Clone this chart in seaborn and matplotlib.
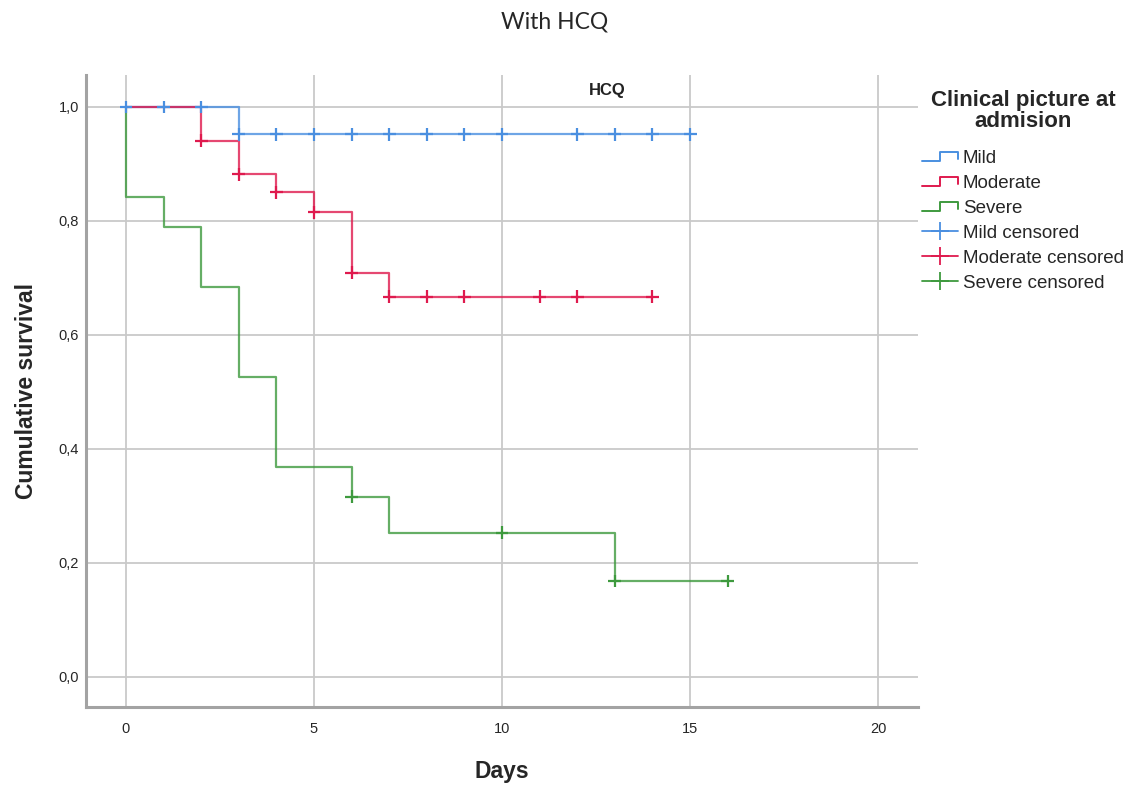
import pandas as pd
import seaborn as sns
import matplotlib.pyplot as plt
from matplotlib.lines import Line2D
from matplotlib.legend_handler import HandlerBase

# Kaplan-Meier curves
groups = ["Mild", "Moderate", "Severe"]
colors = ["#4a8fe0", "#df1a4e", "#3e9a3e"]

mild_t = [0, 3, 15]
mild_s = [1.0, 0.952, 0.952]
moderate_t = [0, 2, 3, 4, 5, 6, 7, 14]
moderate_s = [1.0, 0.941, 0.882, 0.850, 0.815, 0.709, 0.667, 0.667]
severe_t = [0, 0, 1, 2, 3, 4, 6, 7, 13, 16]
severe_s = [1.0, 0.842, 0.789, 0.684, 0.526, 0.368, 0.316, 0.253, 0.168, 0.168]

# censored cases
mild_cens_t = [0, 1, 2, 3, 4, 5, 6, 7, 8, 9, 10, 12, 13, 14, 15]
mild_cens_s = [1.0, 1.0, 1.0, 0.952, 0.952, 0.952, 0.952, 0.952, 0.952,
               0.952, 0.952, 0.952, 0.952, 0.952, 0.952]
moderate_cens_t = [2, 3, 4, 5, 6, 7, 8, 9, 11, 12, 14]
moderate_cens_s = [0.941, 0.882, 0.850, 0.815, 0.709, 0.667, 0.667, 0.667,
                   0.667, 0.667, 0.667]
severe_cens_t = [6, 10, 13, 16]
severe_cens_s = [0.316, 0.253, 0.168, 0.168]

x_ticks = [0, 5, 10, 15, 20]
y_ticks = [0.0, 0.2, 0.4, 0.6, 0.8, 1.0]

curves = pd.concat([
    pd.DataFrame({"Days": mild_t, "Survival": mild_s, "Group": "Mild"}),
    pd.DataFrame({"Days": moderate_t, "Survival": moderate_s, "Group": "Moderate"}),
    pd.DataFrame({"Days": severe_t, "Survival": severe_s, "Group": "Severe"}),
], ignore_index=True)
censored = pd.concat([
    pd.DataFrame({"Days": mild_cens_t, "Survival": mild_cens_s, "Group": "Mild"}),
    pd.DataFrame({"Days": moderate_cens_t, "Survival": moderate_cens_s, "Group": "Moderate"}),
    pd.DataFrame({"Days": severe_cens_t, "Survival": severe_cens_s, "Group": "Severe"}),
], ignore_index=True)

sns.set_style("white")
plt.rcParams["font.family"] = ["Liberation Sans", "DejaVu Sans"]

pal = dict(zip(groups, colors))

fig = plt.figure(figsize=(11.32, 7.87), dpi=100)
ax = fig.add_axes([0.076, 0.1017, 0.735, 0.803])

sns.lineplot(data=curves, x="Days", y="Survival", hue="Group", palette=pal,
             estimator=None, sort=False, drawstyle="steps-post",
             linewidth=1.6, alpha=0.8, legend=False, ax=ax, zorder=2)
sns.scatterplot(data=censored, x="Days", y="Survival", hue="Group", palette=pal,
                marker="+", s=85, linewidth=1.6, legend=False, ax=ax, zorder=3)

ax.set_xlim(-1.06, 21.06)
ax.set_ylim(-0.053, 1.056)
ax.set_xticks(x_ticks)
ax.set_xticklabels([str(v) for v in x_ticks], fontsize=10.5)
ax.set_yticks(y_ticks)
ax.set_yticklabels([f"{v:.1f}".replace(".", ",") for v in y_ticks], fontsize=10.5)
ax.tick_params(axis="y", length=0, pad=5)
ax.tick_params(axis="x", length=0, pad=11)

ax.grid(True, color="#c9c9c9", linewidth=1.3)
ax.set_axisbelow(True)
for side in ["top", "right"]:
    ax.spines[side].set_visible(False)
for side in ["left", "bottom"]:
    ax.spines[side].set_color("#a3a3a3")
    ax.spines[side].set_linewidth(2.2)

ax.set_xlabel("Days", fontsize=16.5, fontweight="bold", labelpad=17)
ax.set_ylabel("Cumulative survival", fontsize=16.5, fontweight="bold", labelpad=15)
ax.text(0.627, 0.976, "HCQ", transform=ax.transAxes, fontsize=12,
        fontweight="bold", ha="center", va="center", color="#222222")

fig.text(0.49, 0.972, "With HCQ", fontsize=16.5, family="Lato",
         ha="center", va="center")


class StepHandler(HandlerBase):
    def create_artists(self, legend, orig_handle, xdescent, ydescent,
                       width, height, fontsize, trans):
        x0, y0 = -xdescent, -ydescent
        xs = [x0, x0 + width * 0.5, x0 + width * 0.5, x0 + width, x0 + width]
        ys = [y0 + height * 0.15, y0 + height * 0.15, y0 + height * 0.85,
              y0 + height * 0.85, y0 + height * 0.3]
        line = Line2D(xs, ys, color=orig_handle.get_color(), linewidth=1.4,
                      transform=trans)
        return [line]


handles = [Line2D([], [], color=c) for c in colors]
handles += [Line2D([], [], color=c, marker="+", markersize=13,
                   markeredgewidth=1.3, linewidth=1.3) for c in colors]
labels = groups + [g + " censored" for g in groups]
handler_map = {h: StepHandler() for h in handles[:3]}

leg = fig.legend(handles, labels, handler_map=handler_map, loc="upper left",
                 bbox_to_anchor=(0.8015, 0.905), frameon=False, fontsize=13.5,
                 title="Clinical picture at\nadmision",
                 title_fontproperties={"weight": "bold", "size": 16},
                 handlelength=1.9, handletextpad=0.25, labelspacing=0.42,
                 borderpad=0.3)
leg._legend_box.align = "center"
leg._legend_box.sep = 13
leg.get_title().set_multialignment("center")
leg.get_title().set_linespacing(1.0)

fig.savefig("out.png", dpi=100)
